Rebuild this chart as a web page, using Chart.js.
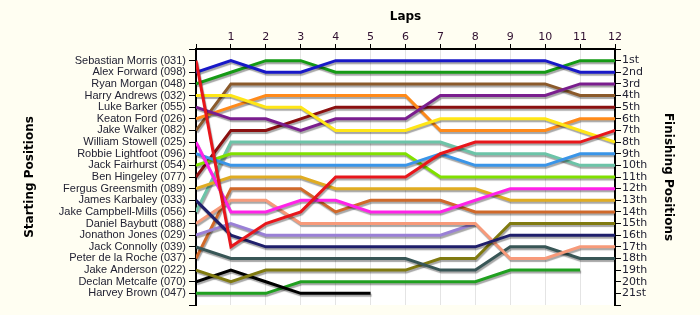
<!DOCTYPE html>
<html>
<head>
<meta charset="utf-8">
<script src="https://cdn.jsdelivr.net/npm/chart.js@4"></script>
<style>
  body { margin: 0; background: #fffef2; }
  #wrap { width: 700px; height: 315px; }
</style>
</head>
<body>
<div id="wrap"><canvas id="lap-chart"></canvas></div>
<script>
// laps along the top, 0 = grid
var laps = [0,1,2,3,4,5,6,7,8,9,10,11,12];

// drivers in starting order
var drivers = ["Sebastian Morris (031)","Alex Forward (098)","Ryan Morgan (048)","Harry Andrews (032)",
  "Luke Barker (055)","Keaton Ford (026)","Jake Walker (082)","William Stowell (025)",
  "Robbie Lightfoot (096)","Jack Fairhurst (054)","Ben Hingeley (077)","Fergus Greensmith (089)",
  "James Karbaley (033)","Jake Campbell-Mills (056)","Daniel Baybutt (088)","Jonathon Jones (029)",
  "Jack Connolly (039)","Peter de la Roche (037)","Jake Anderson (022)","Declan Metcalfe (070)",
  "Harvey Brown (047)"];

var finishLabels = ["1st","2nd","3rd","4th","5th","6th","7th","8th","9th","10th","11th",
  "12th","13th","14th","15th","16th","17th","18th","19th","20th","21st"];

// position of each driver at every lap (null = retired)
var morris     = [1,17,15,14,11,11,11,9,8,8,8,8,7];
var forward    = [2,1,2,2,1,1,1,1,1,1,1,2,2];
var morgan     = [3,2,1,1,2,2,2,2,2,2,2,1,1];
var andrews    = [4,4,5,5,7,7,7,6,6,6,6,7,8];
var barker     = [5,6,6,7,6,6,6,4,4,4,4,3,3];
var ford       = [6,5,4,4,4,4,4,7,7,7,7,6,6];
var walker     = [7,3,3,3,3,3,3,3,3,3,3,4,4];
var stowell    = [8,14,14,13,13,14,14,14,13,12,12,12,12];
var lightfoot  = [9,10,10,10,10,10,10,9,10,10,10,9,9];
var fairhurst  = [10,9,9,9,9,9,9,11,11,11,11,11,11];
var hingeley   = [11,7,7,6,5,5,5,5,5,5,5,5,5];
var greensmith = [12,11,11,11,12,12,12,12,12,13,13,13,13];
var karbaley   = [13,16,17,17,17,17,17,17,17,16,16,16,16];
var campbell   = [14,8,8,8,8,8,8,8,9,9,9,10,10];
var baybutt    = [15,13,13,15,15,15,15,15,15,18,18,17,17];
var jones      = [16,15,16,16,16,16,16,16,15,null,null,null,null];
var connolly   = [17,18,18,18,18,18,18,19,19,17,17,18,18];
var roche      = [18,12,12,12,14,13,13,13,14,14,14,14,14];
var anderson   = [19,20,19,19,19,19,19,18,18,15,15,15,15];
var metcalfe   = [20,19,20,21,21,21,null,null,null,null,null,null,null];
var brown      = [21,21,21,20,20,20,20,20,20,19,19,19,null];

var series = [morris,forward,morgan,andrews,barker,ford,walker,stowell,lightfoot,fairhurst,
  hingeley,greensmith,karbaley,campbell,baybutt,jones,connolly,roche,anderson,metcalfe,brown];

var colours = ["#e8161b","#1818c8","#159a15","#ffe617","#7a1e8e","#ff8a1a","#8b5a2b","#ff22e8",
  "#3a95e8","#80e000","#8b1010","#e0ac22","#1f1f6b","#6cc4a8","#f79a7a","#9a80d6",
  "#385656","#d0692a","#807a10","#000000","#20a020"];

var datasets = [];
for (var i = 0; i < series.length; i++) {
  var pts = [];
  for (var j = 0; j < laps.length; j++) {
    if (series[i][j] != null) pts.push({x: laps[j], y: series[i][j]});
  }
  datasets.push({
    label: drivers[i],
    data: pts,
    borderColor: colours[i],
    borderWidth: 3,
    pointRadius: 0,
    tension: 0,
    fill: false
  });
}

// cream page, white plot, grey shadow under lines
var paint = {
  id: 'paint',
  beforeDraw: function(chart) {
    var c = chart.ctx, a = chart.chartArea;
    c.save();
    c.fillStyle = '#fffef2';
    c.fillRect(0, 0, chart.width, chart.height);
    c.fillStyle = '#ffffff';
    c.fillRect(a.left, a.top, a.right - a.left, a.bottom - a.top);
    c.restore();
  },
  beforeDatasetsDraw: function(chart) {
    var c = chart.ctx;
    c.save();
    c.shadowColor = 'rgba(0,0,0,0.35)';
    c.shadowOffsetX = 1;
    c.shadowOffsetY = 2;
    c.shadowBlur = 1;
  },
  afterDatasetsDraw: function(chart) {
    chart.ctx.restore();
  }
};

var tickFont = {family: 'Liberation Sans', size: 11, lineHeight: 1};
var rightFont = {family: 'DejaVu Sans', size: 11, lineHeight: 1};
var titleFont = {family: 'DejaVu Sans', size: 12, weight: 'bold'};

new Chart(document.getElementById("lap-chart"), {
  type: 'line',
  data: { datasets: datasets },
  plugins: [paint],
  options: {
    responsive: true,
    maintainAspectRatio: false,
    animation: false,
    layout: { padding: { bottom: 10 } },
    plugins: { legend: { display: false }, tooltip: { enabled: false } },
    scales: {
      x: {
        type: 'linear',
        position: 'top',
        min: 0, max: 12,
        afterFit: function(s) { s.height = 49; },
        ticks: {
          stepSize: 1, autoSkip: false, maxRotation: 0, padding: 1,
          color: '#301030', font: rightFont,
          callback: function(v) { return v === 0 ? '' : v; }
        },
        grid: { color: '#e4e4e4', tickColor: '#000', tickLength: 5 },
        border: { color: '#000', width: 2 },
        title: { display: true, text: 'Laps', color: '#000', font: titleFont, padding: { top: 10 } }
      },
      y: {
        type: 'linear',
        position: 'left',
        reverse: true,
        min: 0, max: 22,
        afterFit: function(s) { s.width = 196; },
        ticks: {
          stepSize: 1, autoSkip: false, padding: 3,
          color: '#222233', font: tickFont,
          callback: function(v) { return drivers[v - 1] || ''; }
        },
        grid: { drawOnChartArea: false, color: '#000', tickLength: 7 },
        border: { color: '#000', width: 2 },
        title: { display: true, text: 'Starting Positions', color: '#000', font: titleFont, padding: { top: 23 } }
      },
      y2: {
        type: 'linear',
        position: 'right',
        reverse: true,
        min: 0, max: 22,
        afterFit: function(s) { s.width = 85; },
        ticks: {
          stepSize: 1, autoSkip: false, padding: 1,
          color: '#222233', font: rightFont,
          callback: function(v) { return finishLabels[v - 1] || ''; }
        },
        grid: { drawOnChartArea: false, color: '#000', tickLength: 6 },
        border: { color: '#000', width: 2 },
        title: { display: true, text: 'Finishing Positions', color: '#000', font: titleFont, padding: { top: 25 } }
      }
    }
  }
});
</script>
</body>
</html>
